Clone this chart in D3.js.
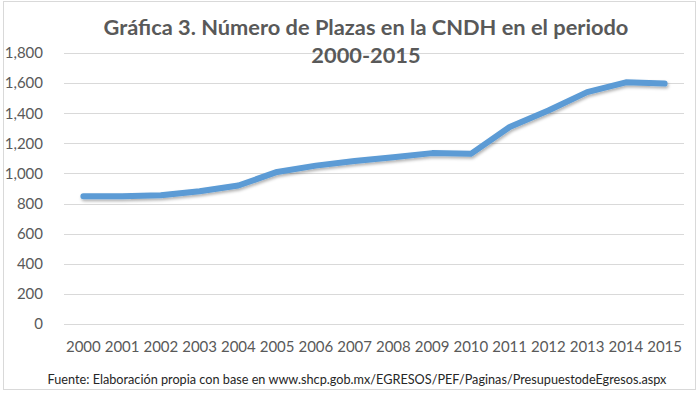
<!DOCTYPE html>
<meta charset="utf-8">
<style>
body { margin: 0; background: #fff; }
svg { font-family: Lato, "Open Sans", sans-serif; }
.title { font-weight: bold; fill: #595959; font-size: 21.8px; }
.axis text { fill: #595959; font-size: 15px; font-family: Lato, sans-serif; }
.axis path, .axis line { display: none; }
.grid line { stroke: #d9d9d9; stroke-width: 1; }
.source { fill: #262626; font-size: 12.7px; }
</style>
<svg width="700" height="396"></svg>
<script src="https://d3js.org/d3.v7.min.js"></script>
<script>

var years = ["2000", "2001", "2002", "2003", "2004", "2005", "2006", "2007",
             "2008", "2009", "2010", "2011", "2012", "2013", "2014", "2015"];
var plazas = [848, 848, 855, 882, 920, 1010, 1052, 1082,
              1108, 1135, 1130, 1308, 1418, 1540, 1605, 1597];
var yTicks = [0, 200, 400, 600, 800, 1000, 1200, 1400, 1600, 1800];

var svg = d3.select("svg"),
    margin = {top: 53, right: 16, bottom: 72, left: 64},
    width = +svg.attr("width") - margin.left - margin.right,
    height = +svg.attr("height") - margin.top - margin.bottom;

// chart border
svg.append("rect")
    .attr("x", 3.5).attr("y", 1.5)
    .attr("width", 692).attr("height", 388)
    .attr("fill", "none")
    .attr("stroke", "#d9d9d9");

var x = d3.scaleBand().domain(years).range([0, width]),
    y = d3.scaleLinear().domain([0, 1800]).range([height, 0]);

var g = svg.append("g")
    .attr("transform", "translate(" + margin.left + "," + margin.top + ")");

g.append("g")
    .attr("class", "grid")
  .selectAll("line")
  .data(yTicks)
  .enter().append("line")
    .attr("x1", 0)
    .attr("x2", width)
    .attr("y1", function(d) { return Math.round(y(d)) + 0.5; })
    .attr("y2", function(d) { return Math.round(y(d)) + 0.5; });

g.append("g")
    .attr("class", "axis axis--y")
    .attr("transform", "translate(-18,0)")
    .call(d3.axisLeft(y).tickValues(yTicks).tickFormat(d3.format(",")).tickSize(0));

g.append("g")
    .attr("class", "axis axis--x")
    .attr("transform", "translate(0," + (height + 14) + ")")
    .call(d3.axisBottom(x).tickSize(0));

var defs = svg.append("defs");
var f = defs.append("filter").attr("id", "shadow")
    .attr("x", "-5%").attr("y", "-20%").attr("width", "110%").attr("height", "140%");
f.append("feDropShadow")
    .attr("dx", 1).attr("dy", 2).attr("stdDeviation", 1.5)
    .attr("flood-color", "#000").attr("flood-opacity", 0.3);

var line = d3.line()
    .x(function(d, i) { return x(years[i]) + x.bandwidth() / 2; })
    .y(function(d) { return y(d); });

g.append("path")
    .datum(plazas)
    .attr("fill", "none")
    .attr("stroke", "#5b9bd5")
    .attr("stroke-width", 6)
    .attr("stroke-linejoin", "round")
    .attr("stroke-linecap", "round")
    .attr("filter", "url(#shadow)")
    .attr("d", line);

svg.append("text")
    .attr("class", "title")
    .attr("x", 366).attr("y", 35)
    .attr("text-anchor", "middle")
    .text("Gráfica 3. Número de Plazas en la CNDH en el periodo");

svg.append("text")
    .attr("class", "title")
    .attr("x", 366).attr("y", 63)
    .attr("text-anchor", "middle")
    .text("2000-2015");

svg.append("text")
    .attr("class", "source")
    .attr("x", 357).attr("y", 384)
    .attr("text-anchor", "middle")
    .text("Fuente: Elaboración propia con base en www.shcp.gob.mx/EGRESOS/PEF/Paginas/PresupuestodeEgresos.aspx");

</script>
